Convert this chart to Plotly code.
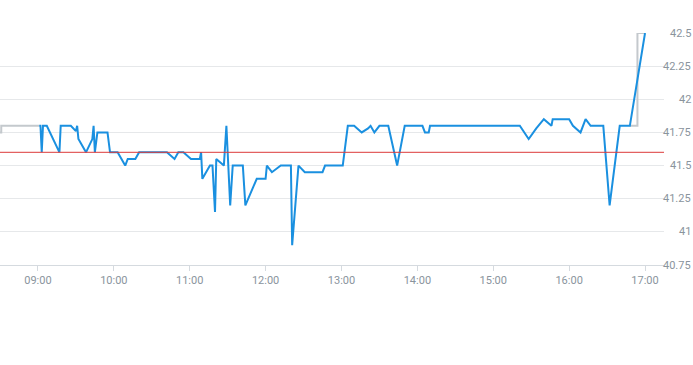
import plotly.graph_objects as go

DAY = "2024-01-02 "

# Intraday price (blue line)
times = ["09:01", "09:02", "09:03", "09:04", "09:07", "09:17", "09:18", "09:26", "09:30", "09:31",
         "09:32", "09:38", "09:43", "09:44", "09:45", "09:47", "09:55", "09:57", "10:03", "10:09",
         "10:11", "10:17", "10:20", "10:42", "10:48", "10:51", "10:55", "11:01", "11:08", "11:09",
         "11:10", "11:16", "11:18", "11:20", "11:21", "11:27", "11:29", "11:32", "11:34", "11:42",
         "11:44", "11:53", "12:00", "12:01", "12:05", "12:12", "12:20", "12:21", "12:26", "12:31",
         "12:45", "12:47", "13:01", "13:05", "13:10", "13:16", "13:21", "13:23", "13:26", "13:30",
         "13:37", "13:44", "13:50", "14:04", "14:06", "14:09", "14:10", "15:21", "15:28", "15:34",
         "15:40", "15:46", "15:47", "16:00", "16:03", "16:09", "16:13", "16:17", "16:27", "16:32",
         "16:40", "16:48", "17:00"]
prices = [41.8, 41.8, 41.6, 41.8, 41.8, 41.6, 41.8, 41.8, 41.76, 41.8,
          41.7, 41.6, 41.7, 41.8, 41.6, 41.75, 41.75, 41.6, 41.6, 41.5,
          41.55, 41.55, 41.6, 41.6, 41.55, 41.6, 41.6, 41.55, 41.55, 41.6,
          41.4, 41.5, 41.5, 41.15, 41.55, 41.5, 41.8, 41.2, 41.5, 41.5,
          41.2, 41.4, 41.4, 41.5, 41.45, 41.5, 41.5, 40.9, 41.5, 41.45,
          41.45, 41.5, 41.5, 41.8, 41.8, 41.75, 41.78, 41.8, 41.75, 41.8,
          41.8, 41.5, 41.8, 41.8, 41.75, 41.75, 41.8, 41.8, 41.7, 41.78,
          41.85, 41.8, 41.85, 41.85, 41.8, 41.75, 41.85, 41.8, 41.8, 41.2,
          41.8, 41.8, 42.5]

# Auction / step reference (grey line)
aux_times_open = ["08:30", "08:31", "09:01"]
aux_prices_open = [41.75, 41.8, 41.8]
aux_times_close = ["16:48", "16:54", "17:00"]
aux_prices_close = [41.8, 42.5, 42.5]

prev_close = 41.6

y_ticks = [40.75, 41, 41.25, 41.5, 41.75, 42, 42.25, 42.5]
y_tick_text = ["40.75", "41", "41.25", "41.5", "41.75", "42", "42.25", "42.5"]

x_range = ["08:30", "17:15"]

FONT = "Roboto, Arial, sans-serif"
LABEL_COLOR = "#8a949d"

fig = go.Figure()

for tx, py in ((aux_times_open, aux_prices_open), (aux_times_close, aux_prices_close)):
    fig.add_trace(go.Scatter(
        x=[DAY + t for t in tx], y=py, mode="lines",
        line=dict(color="#c4c9cd", width=2, shape="hv"),
        showlegend=False, hoverinfo="skip"))

fig.add_trace(go.Scatter(
    x=[DAY + t for t in times], y=prices, mode="lines",
    line=dict(color="#1a90e0", width=2),
    showlegend=False))

fig.add_shape(type="line", xref="paper", x0=0, x1=1, yref="y", y0=prev_close, y1=prev_close,
              line=dict(color="#dd3a3a", width=1), layer="above")

for v, txt in zip(y_ticks, y_tick_text):
    fig.add_annotation(x=1, xref="paper", y=v, yref="y", text=txt, showarrow=False,
                       xanchor="right", yanchor="middle", xshift=29,
                       font=dict(family=FONT, size=11, color=LABEL_COLOR))

fig.update_layout(
    width=693, height=365, autosize=False,
    margin=dict(l=0, r=29, t=33, b=100),
    plot_bgcolor="white", paper_bgcolor="white",
    xaxis=dict(
        type="date",
        range=[DAY + x_range[0], DAY + x_range[1]],
        tick0=DAY + "09:00", dtick=3600000, tickformat="%H:%M",
        showgrid=False, zeroline=False,
        showline=True, linecolor="#d5dadf", linewidth=1,
        ticks="outside", ticklen=5, tickcolor="#d5dadf",
        tickfont=dict(family=FONT, size=11, color=LABEL_COLOR),
    ),
    yaxis=dict(
        side="right",
        range=[40.75, 42.5],
        tickvals=y_ticks, showticklabels=False,
        showgrid=True, gridcolor="#e6e8ea", gridwidth=1,
        zeroline=False, showline=False, ticks="",
    ),
)

fig.write_html("out.html")
